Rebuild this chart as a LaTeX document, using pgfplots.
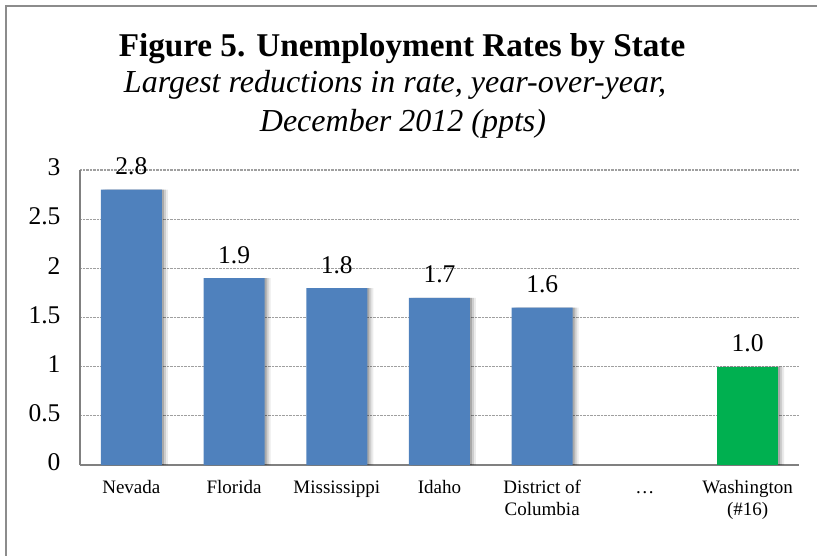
\documentclass[border=0pt]{standalone}
\usepackage{fontspec}
\setmainfont{Liberation Serif}
\usepackage{pgfplots}
\pgfplotsset{compat=1.18}
\definecolor{barblue}{HTML}{4F81BD}
\definecolor{bargreen}{HTML}{00B050}
\definecolor{framegray}{HTML}{8C8C8C}
\begin{document}
\begin{tikzpicture}[x=1pt,y=1pt]
\useasboundingbox (0,0) rectangle (817,555);
\draw[framegray, line width=2pt] (6,-2) -- (6,549) -- (819,549);
\node[anchor=base, font=\fontsize{33.2}{38}\selectfont\bfseries] at (402,498) {Figure 5. Unemployment Rates by State};
\node[anchor=base, font=\fontsize{32}{37}\selectfont\itshape] at (395,462) {Largest reductions in rate, year-over-year,};
\node[anchor=base, font=\fontsize{32}{37}\selectfont\itshape] at (403,423) {December 2012 (ppts)};
\begin{axis}[
  at={(80pt,90pt)}, anchor=south west,
  scale only axis, width=719pt, height=295pt,
  xmin=-0.5, xmax=6.5, ymin=0, ymax=3,
  axis lines*=left,
  axis line style={draw=gray, line width=1.5pt},
  ytick={0,0.5,1,1.5,2,2.5,3},
  xtick={0,1,2,3,4,5,6},
  xticklabels={Nevada,Florida,Mississippi,Idaho,{District of\\Columbia},…,{Washington\\(\#16)}},
  typeset ticklabels with strut,
  major tick length=0pt,
  ymajorgrids,
  major grid style={densely dotted, gray!75, line width=1.3pt},
  /pgf/number format/assume math mode=true,
  yticklabel style={font=\fontsize{25.5}{29}\selectfont, xshift=-16pt},
  xticklabel style={font=\fontsize{19}{21.5}\selectfont, align=center, anchor=north, yshift=-10pt},
  clip=false,
]
\addplot[ybar, bar width=61pt, bar shift=6pt, draw=none, fill=black, fill opacity=0.08] coordinates {(0,2.8) (1,1.9) (2,1.8) (3,1.7) (4,1.6) (6,1.0)};
\addplot[ybar, bar width=61pt, bar shift=4pt, draw=none, fill=black, fill opacity=0.12] coordinates {(0,2.8) (1,1.9) (2,1.8) (3,1.7) (4,1.6) (6,1.0)};
\addplot[ybar, bar width=61pt, bar shift=2pt, draw=none, fill=black, fill opacity=0.18] coordinates {(0,2.8) (1,1.9) (2,1.8) (3,1.7) (4,1.6) (6,1.0)};
\addplot[ybar, bar width=61pt, bar shift=0pt, draw=none, fill=barblue,
  nodes near coords, nodes near coords style={font=\fontsize{25.5}{29}\selectfont, yshift=11pt, /pgf/number format/.cd, fixed, precision=1, zerofill, assume math mode=true}]
  coordinates {(0,2.8) (1,1.9) (2,1.8) (3,1.7) (4,1.6)};
\addplot[ybar, bar width=61pt, bar shift=0pt, draw=none, fill=bargreen,
  nodes near coords, nodes near coords style={font=\fontsize{25.5}{29}\selectfont, yshift=11pt, /pgf/number format/.cd, fixed, precision=1, zerofill, assume math mode=true}]
  coordinates {(6,1.0)};
\end{axis}
\end{tikzpicture}
\end{document}
